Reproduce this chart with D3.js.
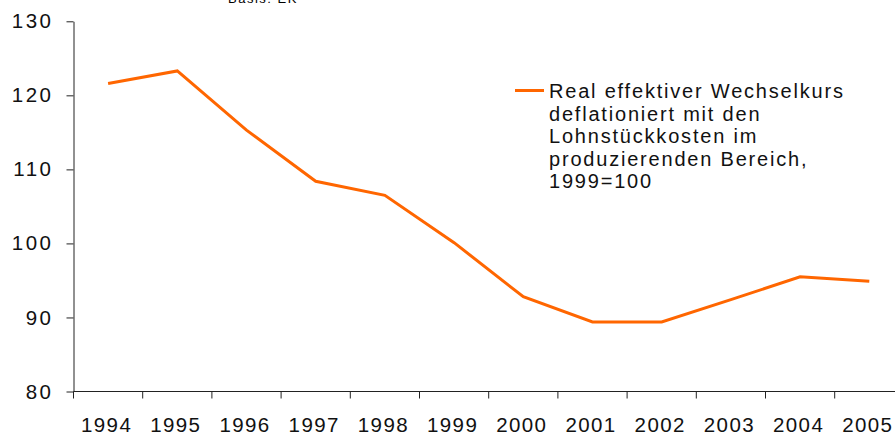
<!DOCTYPE html>
<html>
<head>
<meta charset="utf-8">
<script src="https://cdn.jsdelivr.net/npm/d3@7"></script>
<style>
  body { margin: 0; background: #fff; }
  svg { display: block; font-family: "Liberation Sans", Arial, sans-serif; }
</style>
</head>
<body>
<div id="chart"></div>
<script>
// data
const years = ["1994", "1995", "1996", "1997", "1998", "1999", "2000", "2001", "2002", "2003", "2004", "2005"];
const values = [121.6, 123.3, 115.3, 108.4, 106.5, 100.1, 92.8, 89.4, 89.4, 92.4, 95.5, 94.9];
const yTicks = [80, 90, 100, 110, 120, 130];
const legendLines = ["Real effektiver Wechselkurs", "deflationiert mit den", "Lohnstückkosten im", "produzierenden Bereich,", "1999=100"];

const W = 895, H = 435;
const plotLeft = 73.5, plotTop = 21.3, plotBottom = 391.5, band = 69.2;

const svg = d3.select("#chart").append("svg")
    .attr("width", W).attr("height", H);

const x = d3.scaleBand().domain(years).range([plotLeft, plotLeft + band * years.length]).padding(0);
const y = d3.scaleLinear().domain([80, 130]).range([plotBottom, plotTop]);

// note above the chart, cut off by the top edge like in the original
svg.append("text")
    .attr("x", 228).attr("y", 3)
    .attr("font-size", 13).attr("letter-spacing", 1.5)
    .attr("fill", "#000")
    .text("Basis: EK");

// y axis
const yAxis = svg.append("g")
    .attr("transform", "translate(" + plotLeft + ",0)")
    .call(d3.axisLeft(y).tickValues(yTicks).tickSize(7).tickSizeOuter(0).tickPadding(13));
yAxis.select(".domain").attr("stroke", "#222");
yAxis.selectAll(".tick line").attr("stroke", "#222");
yAxis.selectAll(".tick text")
    .attr("font-size", 20.5).attr("letter-spacing", 2.5)
    .attr("fill", "#111").attr("font-family", "Liberation Sans, Arial, sans-serif");

// x axis: ticks sit between the years
const xg = svg.append("g").attr("transform", "translate(0," + plotBottom + ")");
xg.append("line")
    .attr("x1", plotLeft).attr("x2", x.range()[1])
    .attr("stroke", "#222");
const bounds = years.map(d => x(d)).concat([x.range()[1]]);
xg.selectAll("line.tk").data(bounds).enter().append("line")
    .attr("class", "tk")
    .attr("x1", d => d).attr("x2", d => d)
    .attr("y1", 0).attr("y2", 7)
    .attr("stroke", "#222");
xg.selectAll("text").data(years).enter().append("text")
    .attr("x", d => x(d) + x.bandwidth() / 2 - 1.5)
    .attr("y", 40.8)
    .attr("text-anchor", "middle")
    .attr("font-size", 20.5).attr("letter-spacing", 1.4)
    .attr("fill", "#111")
    .text(d => d);

// the series
const line = d3.line()
    .x((d, i) => x(years[i]) + x.bandwidth() / 2)
    .y(d => y(d));
svg.append("path")
    .datum(values)
    .attr("d", line)
    .attr("fill", "none")
    .attr("stroke", "#ff6600")
    .attr("stroke-width", 3)
    .attr("stroke-linejoin", "miter");

// legend
const lg = svg.append("g").attr("transform", "translate(515,0)");
lg.append("line")
    .attr("x1", 0).attr("x2", 29)
    .attr("y1", 90.5).attr("y2", 90.5)
    .attr("stroke", "#ff6600").attr("stroke-width", 3);
lg.selectAll("text").data(legendLines).enter().append("text")
    .attr("x", 34)
    .attr("y", (d, i) => 98 + i * 22.6)
    .attr("font-size", 20).attr("letter-spacing", 1.8)
    .attr("fill", "#111")
    .text(d => d);
</script>
</body>
</html>
